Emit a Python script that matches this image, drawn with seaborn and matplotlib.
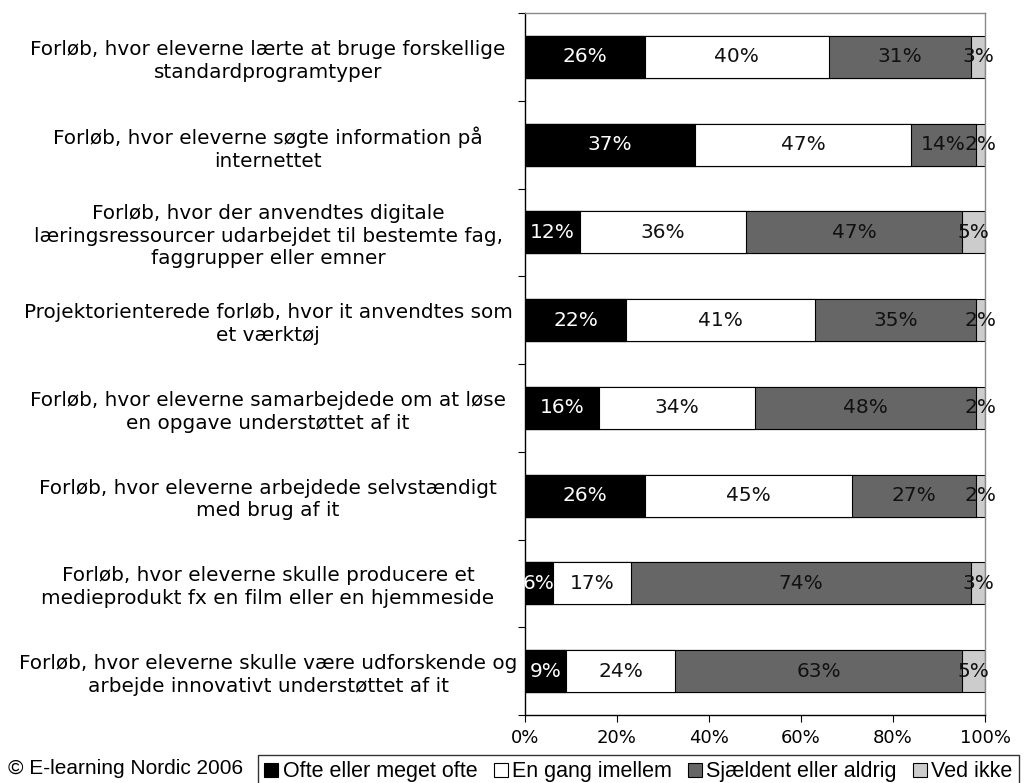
import pandas as pd
import matplotlib.pyplot as plt
import matplotlib.patches as mpatches
import seaborn as sns

# Data
categories = [
    "Forløb, hvor eleverne lærte at bruge forskellige\nstandardprogramtyper",
    "Forløb, hvor eleverne søgte information på\ninternettet",
    "Forløb, hvor der anvendtes digitale\nlæringsressourcer udarbejdet til bestemte fag,\nfaggrupper eller emner",
    "Projektorienterede forløb, hvor it anvendtes som\net værktøj",
    "Forløb, hvor eleverne samarbejdede om at løse\nen opgave understøttet af it",
    "Forløb, hvor eleverne arbejdede selvstændigt\nmed brug af it",
    "Forløb, hvor eleverne skulle producere et\nmedieprodukt fx en film eller en hjemmeside",
    "Forløb, hvor eleverne skulle være udforskende og\narbejde innovativt understøttet af it",
]
series = ["Ofte eller meget ofte", "En gang imellem", "Sjældent eller aldrig", "Ved ikke"]
ofte = [26, 37, 12, 22, 16, 26, 6, 9]
en_gang = [40, 47, 36, 41, 34, 45, 17, 24]
sjaeldent = [31, 14, 47, 35, 48, 27, 74, 63]
ved_ikke = [3, 2, 5, 2, 2, 2, 3, 5]
x_ticks = [0, 20, 40, 60, 80, 100]

colors = ["#000000", "#FFFFFF", "#666666", "#CCCCCC"]
text_colors = ["white", "#111111", "#111111", "#111111"]

df = pd.DataFrame({"cat": categories, series[0]: ofte, series[1]: en_gang,
                   series[2]: sjaeldent, series[3]: ved_ikke})
values = df[series]
cum = values.cumsum(axis=1)
# rescale so each bar ends at 100
cum = cum.div(cum[series[-1]], axis=0) * 100

fig = plt.figure(figsize=(10.27, 7.83), dpi=100)
ax = fig.add_axes([525 / 1027, 1 - 715 / 783, 460 / 1027, 702 / 783])

# stacked bars: draw totals from the back to the front
for i in range(len(series) - 1, -1, -1):
    sns.barplot(x=cum[series[i]], y=df["cat"], orient="h", color=colors[i],
                edgecolor="black", linewidth=0.8, width=0.48, saturation=1, ax=ax)

# value labels
for i, s in enumerate(series):
    left = cum[series[i - 1]] if i > 0 else pd.Series([0] * len(df))
    for j in range(len(df)):
        center = (left[j] + cum[s][j]) / 2
        ax.text(center, j, f"{values[s][j]}%", ha="center", va="center",
                color=text_colors[i], fontsize=14.5, family="DejaVu Sans")

ax.set_xlim(0, 100)
ax.set_ylim(len(categories) - 0.5, -0.5)
ax.set_xticks(x_ticks)
ax.set_xticklabels([f"{t}%" for t in x_ticks], fontsize=13)
ax.set_yticks(range(len(categories)))
ax.set_yticklabels(categories, fontsize=14.4, ha="center", multialignment="center",
                   linespacing=1.25)
ax.tick_params(axis="y", length=0, pad=185)
ax.set_yticks([k - 0.5 for k in range(len(categories) + 1)], minor=True)
ax.tick_params(axis="y", which="minor", length=5, direction="out", width=0.8)
ax.tick_params(axis="x", length=5, direction="out", width=0.8, pad=5)
ax.set_xlabel("")
ax.set_ylabel("")

for side in ["top", "right"]:
    ax.spines[side].set_color("#888888")
    ax.spines[side].set_linewidth(1)
ax.spines["left"].set_linewidth(1)
ax.spines["bottom"].set_linewidth(1)

# legend
handles = [mpatches.Patch(facecolor=c, edgecolor="black", linewidth=0.8) for c in colors]
leg = fig.legend(handles, series, loc="upper left", ncol=4,
                 bbox_to_anchor=(258 / 1027, 1 - 755 / 783),
                 handlelength=0.65, handleheight=0.65, handletextpad=0.2,
                 columnspacing=0.75, borderpad=0.3, borderaxespad=0, fancybox=False,
                 prop={"family": "Liberation Sans", "size": 15.5})
leg.get_frame().set_edgecolor("black")
leg.get_frame().set_linewidth(1)

fig.text(8 / 1027, 1 - 769 / 783, "© E-learning Nordic 2006", ha="left", va="center",
         fontsize=15, family="Liberation Sans")

fig.savefig("out.png", dpi=100)
